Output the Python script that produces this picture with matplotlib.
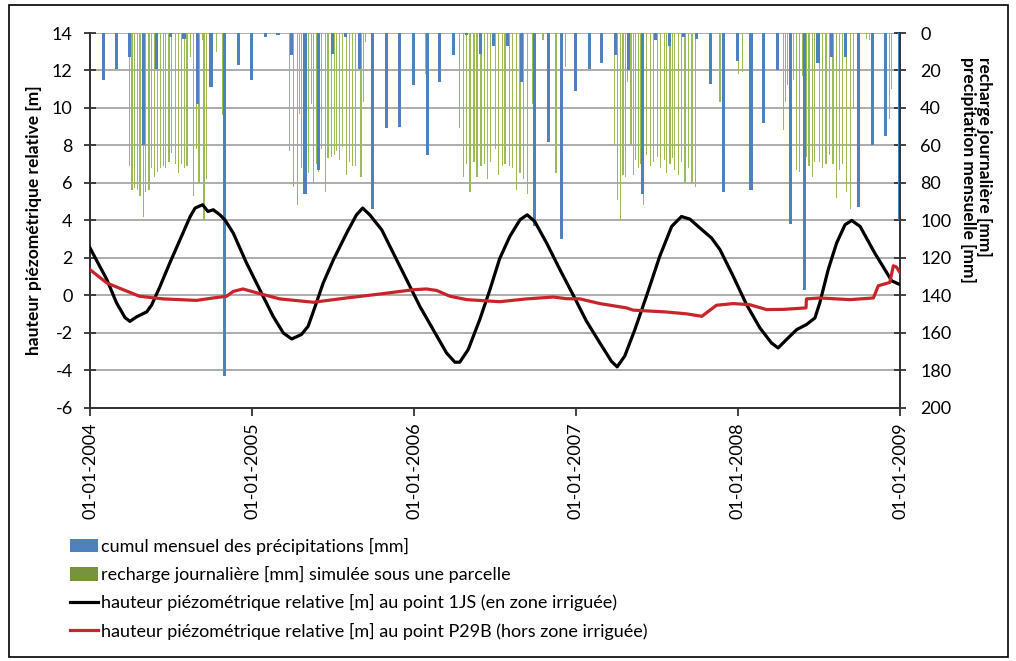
import numpy as np
import pandas as pd
import matplotlib
matplotlib.use("Agg")
import matplotlib.pyplot as plt
import matplotlib.dates as mdates
from matplotlib.patches import Patch, Rectangle
from matplotlib.lines import Line2D

plt.rcParams['font.family'] = ['Lato', 'DejaVu Sans']
plt.rcParams['axes.unicode_minus'] = False

# cumul mensuel des precipitations [mm], Jan 2004 -> Dec 2008
mois = pd.period_range('2004-01', '2008-12', freq='M')
pluie_mm = [25, 19, 13, 60, 19, 2, 3, 38, 29, 183, 17, 25,
            2, 1, 12, 86, 73, 11, 2, 19, 94, 51, 50, 28,
            65, 26, 12, 1, 11, 7, 7, 26, 103, 58, 110, 31,
            19, 16, 12, 20, 86, 4, 7, 2, 3, 27, 85, 15,
            84, 48, 20, 102, 137, 16, 13, 13, 93, 60, 55, 100]

# recharge journaliere simulee [mm]
recharge_dates = [
    '2004-03-30', '2004-04-05', '2004-04-11', '2004-04-17', '2004-04-23', '2004-04-30', '2004-05-06',
    '2004-05-13', '2004-05-19', '2004-05-26', '2004-06-02', '2004-06-08', '2004-06-15', '2004-06-20',
    '2004-06-27', '2004-07-03', '2004-07-11', '2004-07-19', '2004-07-25', '2004-08-02', '2004-08-07',
    '2004-08-14', '2004-08-21', '2004-08-28', '2004-09-03', '2004-09-10', '2004-09-14', '2004-09-20',
    '2004-10-13', '2004-10-26', '2004-10-29',
    '2005-03-26', '2005-04-04', '2005-04-13', '2005-04-17', '2005-04-22', '2005-04-28', '2005-05-07',
    '2005-05-15', '2005-05-19', '2005-05-26', '2005-05-31', '2005-06-06', '2005-06-15', '2005-06-21',
    '2005-06-29', '2005-07-05', '2005-07-10', '2005-07-17', '2005-07-23', '2005-08-02', '2005-08-09',
    '2005-08-15', '2005-08-22', '2005-09-03', '2005-09-09', '2005-09-13', '2005-11-27',
    '2006-01-28', '2006-04-13', '2006-04-22', '2006-04-30', '2006-05-07', '2006-05-16', '2006-05-23',
    '2006-06-01', '2006-06-08', '2006-06-16', '2006-06-23', '2006-07-03', '2006-07-11', '2006-07-19',
    '2006-07-25', '2006-08-04', '2006-08-11', '2006-08-20', '2006-08-28', '2006-09-04', '2006-09-13',
    '2006-09-25', '2006-10-19', '2006-11-17', '2006-12-08',
    '2007-03-29', '2007-04-04', '2007-04-11', '2007-04-17', '2007-04-22', '2007-04-28', '2007-05-05',
    '2007-05-11', '2007-05-16', '2007-05-22', '2007-05-28', '2007-06-03', '2007-06-10', '2007-06-18',
    '2007-06-25', '2007-07-04', '2007-07-10', '2007-07-19', '2007-07-25', '2007-08-01', '2007-08-07',
    '2007-08-12', '2007-08-21', '2007-08-28', '2007-09-04', '2007-09-12', '2007-09-20', '2007-09-28',
    '2007-11-22',
    '2008-01-03', '2008-01-12', '2008-04-13', '2008-04-18', '2008-04-23', '2008-05-06', '2008-05-13',
    '2008-05-19', '2008-05-26', '2008-06-04', '2008-06-10', '2008-06-17', '2008-06-23', '2008-07-04',
    '2008-07-11', '2008-07-18', '2008-07-26', '2008-08-03', '2008-08-11', '2008-08-18', '2008-08-25',
    '2008-09-03', '2008-09-12', '2008-09-18', '2008-10-18', '2008-10-24', '2008-12-08', '2008-12-13']
recharge_mm = [
    71, 84, 83, 84, 87, 98, 85,
    84, 72, 77, 74, 72, 71, 72,
    69, 64, 70, 75, 70, 72, 71,
    13, 87, 62, 80, 4, 100, 78,
    10, 44, 32,
    63, 82, 92, 43, 72, 78, 75,
    38, 80, 70, 74, 62, 85, 67,
    66, 65, 63, 68, 61, 76, 69,
    71, 71, 77, 37, 5, 25,
    22, 51, 77, 70, 85, 69, 77,
    71, 70, 78, 69, 62, 76, 71,
    70, 71, 72, 84, 75, 78, 86,
    38, 4, 75, 18,
    60, 89, 100, 76, 77, 26, 60,
    76, 68, 72, 70, 92, 65, 71,
    69, 66, 72, 68, 75, 70, 67,
    73, 76, 69, 80, 72, 80, 82,
    37,
    22, 21, 52, 37, 28, 25, 73,
    74, 23, 66, 71, 77, 69, 69,
    72, 70, 65, 70, 88, 73, 70,
    85, 94, 40, 3, 4, 46, 30]

# hauteur piezometrique relative [m] au point 1JS
h1js_dates = ['2004-01-01', '2004-02-08', '2004-03-01', '2004-03-20', '2004-03-31', '2004-04-15',
              '2004-05-08', '2004-05-19', '2004-06-07', '2004-06-29', '2004-07-22', '2004-08-14',
              '2004-08-25', '2004-09-11', '2004-09-23', '2004-10-05', '2004-10-20', '2004-10-31',
              '2004-11-19', '2004-12-19', '2005-01-18', '2005-02-17', '2005-03-12', '2005-03-31',
              '2005-04-22', '2005-05-07', '2005-05-19', '2005-06-10', '2005-07-03', '2005-08-02',
              '2005-08-24', '2005-09-07', '2005-09-23', '2005-10-20', '2005-11-15', '2005-12-15',
              '2006-01-14', '2006-02-13', '2006-03-15', '2006-04-03', '2006-04-14', '2006-05-03',
              '2006-05-29', '2006-06-21', '2006-07-13', '2006-08-05', '2006-08-28', '2006-09-13',
              '2006-09-30', '2006-10-27', '2006-11-26', '2006-12-26', '2007-01-25', '2007-02-24',
              '2007-03-22', '2007-04-04', '2007-04-21', '2007-05-14', '2007-06-09', '2007-07-09',
              '2007-08-05', '2007-08-27', '2007-09-15', '2007-10-08', '2007-11-03', '2007-11-22',
              '2007-12-22', '2008-01-21', '2008-02-20', '2008-03-17', '2008-04-01', '2008-04-20',
              '2008-05-13', '2008-06-04', '2008-06-23', '2008-07-04', '2008-07-23', '2008-08-11',
              '2008-08-30', '2008-09-14', '2008-10-03', '2008-11-05', '2008-11-28', '2008-12-13',
              '2009-01-01']
h1js_m = [2.52, 0.83, -0.42, -1.2, -1.4, -1.16,
          -0.89, -0.53, 0.47, 1.72, 2.96, 4.2,
          4.65, 4.83, 4.47, 4.56, 4.29, 4.03,
          3.32, 1.72, 0.29, -1.13, -2.02, -2.34,
          -2.1, -1.66, -0.86, 0.65, 1.89, 3.32,
          4.29, 4.65, 4.29, 3.49, 2.25, 0.83,
          -0.6, -1.84, -3.08, -3.58, -3.58, -2.91,
          -1.31, 0.29, 1.95, 3.14, 4.03, 4.29,
          3.94, 2.78, 1.36, 0.0, -1.4, -2.55,
          -3.53, -3.83, -3.26, -1.84, -0.06, 2.07,
          3.67, 4.2, 4.06, 3.58, 3.05, 2.43,
          1.0, -0.51, -1.75, -2.55, -2.82, -2.37,
          -1.84, -1.57, -1.22, -0.42, 1.36, 2.78,
          3.76, 3.99, 3.67, 2.25, 1.36, 0.77,
          0.56]

# hauteur piezometrique relative [m] au point P29B
p29b_dates = ['2004-01-01', '2004-02-08', '2004-03-16', '2004-04-22', '2004-06-14', '2004-08-28',
              '2004-10-05', '2004-11-04', '2004-11-19', '2004-12-11', '2005-01-18', '2005-03-04',
              '2005-05-19', '2005-08-02', '2005-10-16', '2005-12-30', '2006-01-29', '2006-02-21',
              '2006-03-23', '2006-04-30', '2006-07-13', '2006-09-12', '2006-11-11', '2006-12-11',
              '2007-01-10', '2007-02-24', '2007-04-25', '2007-05-10', '2007-07-24', '2007-09-08',
              '2007-10-12', '2007-11-14', '2007-12-22', '2008-01-28', '2008-03-06', '2008-04-13',
              '2008-06-03', '2008-06-04', '2008-07-04', '2008-09-10', '2008-11-02', '2008-11-13',
              '2008-12-09', '2008-12-17', '2008-12-24', '2009-01-01']
p29b_m = [1.36, 0.65, 0.29, -0.06, -0.2, -0.28,
          -0.15, -0.06, 0.2, 0.33, 0.08, -0.2,
          -0.38, -0.15, 0.06, 0.29, 0.33, 0.25,
          -0.06, -0.24, -0.35, -0.2, -0.1, -0.19,
          -0.2, -0.45, -0.68, -0.8, -0.9, -1.0,
          -1.13, -0.54, -0.45, -0.51, -0.77, -0.76,
          -0.68, -0.2, -0.15, -0.24, -0.15, 0.5,
          0.68, 1.57, 1.5, 1.2]

labels = ['cumul mensuel des précipitations [mm]',
          'recharge journalière [mm] simulée sous une parcelle',
          'hauteur piézométrique relative [m] au point 1JS (en zone irriguée)',
          'hauteur piézométrique relative [m] au point P29B (hors zone irriguée)']

c_bleu = '#4F81BD'
c_vert = '#9BBB59'
c_noir = '#000000'
c_rouge = '#C8242B'

fig = plt.figure(figsize=(10.16, 6.61), dpi=100)
ax = fig.add_axes([90 / 1016, 1 - 407.5 / 661, 810 / 1016, 374.5 / 661])
ax2 = ax.twinx()

# bars on the bottom axes (right scale), lines on top
x_mois = mdates.date2num(mois.to_timestamp(how='end').normalize())
x_rech = mdates.date2num(pd.to_datetime(recharge_dates))
ax.bar(x_rech, recharge_mm, width=2.8, color=c_vert, zorder=2)
ax.bar(x_mois, pluie_mm, width=7, color=c_bleu, zorder=3)
ax.set_ylim(200, 0)
ax.yaxis.tick_right()
ax.yaxis.set_label_position('right')
ax.set_yticks(np.arange(0, 201, 20))
ax.yaxis.grid(True, color='#A6A6A6', lw=1.3)
ax.set_axisbelow(True)

ax2.plot(mdates.date2num(pd.to_datetime(h1js_dates)), h1js_m, color=c_noir, lw=2.3, zorder=4)
ax2.plot(mdates.date2num(pd.to_datetime(p29b_dates)), p29b_m, color=c_rouge, lw=2.3, zorder=4)
ax2.set_ylim(-6, 14)
ax2.set_yticks(np.arange(-6, 15, 2))
ax2.yaxis.tick_left()
ax2.yaxis.set_label_position('left')
ax2.set_ylabel('hauteur piézométrique relative [m]', fontsize=12.5, fontweight='bold', labelpad=7)

ax.set_xlim(mdates.date2num(pd.Timestamp('2004-01-01')), mdates.date2num(pd.Timestamp('2009-01-01')))
ax.xaxis.set_major_locator(mdates.YearLocator())
ax.xaxis.set_major_formatter(mdates.DateFormatter('%d-%m-%Y'))
plt.setp(ax.get_xticklabels(), rotation=90)

for a in (ax, ax2):
    a.spines['top'].set_visible(False)
    for s in ('left', 'right', 'bottom'):
        a.spines[s].set_color('#333333')
        a.spines[s].set_linewidth(1.3)
ax.tick_params(axis='x', direction='out', length=6, width=1.3, color='#333333', labelsize=13, pad=5)
ax.tick_params(axis='y', direction='inout', length=9, width=1.3, color='#333333', labelsize=13, pad=10)
ax2.tick_params(axis='y', direction='inout', length=9, width=1.3, color='#333333', labelsize=13, pad=8)

# with rotation 270 the first line lands on the right
fig.text(976 / 1016, 1 - 170 / 661, 'recharge journalière [mm]\nprecipitation mensuelle [mm]',
         rotation=270, ha='center', va='center', multialignment='left',
         fontsize=12.5, fontweight='bold', linespacing=1.0)

handles = [Patch(facecolor=c_bleu, edgecolor='none'),
           Patch(facecolor='#77933C', edgecolor='none'),
           Line2D([0], [0], color=c_noir, lw=2.3),
           Line2D([0], [0], color=c_rouge, lw=2.3)]
fig.legend(handles, labels, loc='upper left', bbox_to_anchor=(70 / 1016, 1 - 538 / 661),
           frameon=False, fontsize=13, handlelength=1.55, handleheight=0.75,
           handletextpad=0.15, labelspacing=0.62, borderpad=0, borderaxespad=0)

fig.patches.append(Rectangle((9 / 1016, 4 / 661), 999 / 1016, 652 / 661, transform=fig.transFigure,
                             fill=False, edgecolor='black', lw=1.2))

fig.savefig('out.png', dpi=100)
